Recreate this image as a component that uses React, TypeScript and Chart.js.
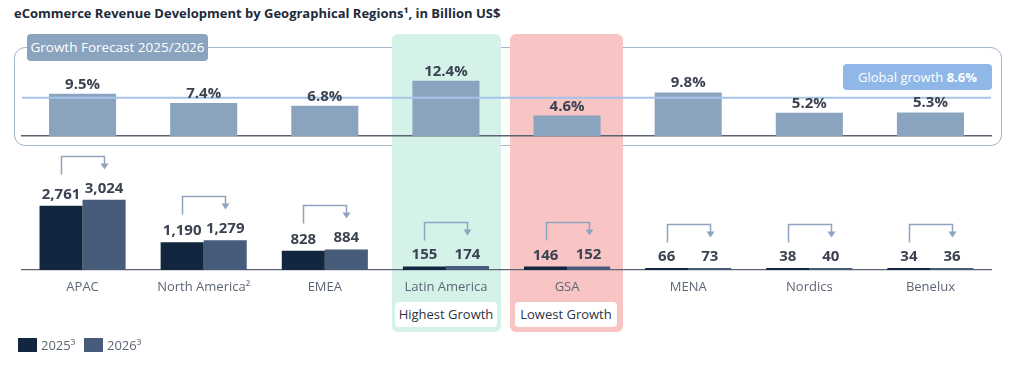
import React, { useEffect, useRef } from "react";
import { Chart, registerables } from "chart.js";

Chart.register(...registerables);

const categories = ["APAC", "North America²", "EMEA", "Latin America", "GSA", "MENA", "Nordics", "Benelux"];
const growth = [9.5, 7.4, 6.8, 12.4, 4.6, 9.8, 5.2, 5.3];
const revenue2025 = [2761, 1190, 828, 155, 146, 66, 38, 34];
const revenue2026 = [3024, 1279, 884, 174, 152, 73, 40, 36];
const globalGrowth = 8.6;
const seriesLabels = ["2025³", "2026³"];

const FONT = "'Open Sans', 'Noto Sans', sans-serif";
const C2025 = "#13263f";
const C2026 = "#465c7a";
const CTOP = "#8aa3bf";
const VALUE_TEXT = "#3b4351";

const topLabels = {
  id: "topLabels",
  afterDatasetsDraw(chart: any) {
    const ctx = chart.ctx;
    const meta = chart.getDatasetMeta(0);
    const y = chart.scales.y.getPixelForValue(globalGrowth);
    const { left, right } = chart.chartArea;
    ctx.save();
    ctx.strokeStyle = "#a6c4ea";
    ctx.lineWidth = 2;
    ctx.beginPath();
    ctx.moveTo(left, y);
    ctx.lineTo(right, y);
    ctx.stroke();
    ctx.fillStyle = VALUE_TEXT;
    ctx.font = `bold 15px ${FONT}`;
    ctx.textAlign = "center";
    ctx.textBaseline = "alphabetic";
    meta.data.forEach((bar: any, i: number) => {
      ctx.fillText(growth[i].toFixed(1) + "%", bar.x, bar.y - 5);
    });
    ctx.restore();
  },
};

const bottomLabels = {
  id: "bottomLabels",
  afterDatasetsDraw(chart: any) {
    const ctx = chart.ctx;
    const m0 = chart.getDatasetMeta(0);
    const m1 = chart.getDatasetMeta(1);
    const sets = [revenue2025, revenue2026];
    ctx.save();
    ctx.fillStyle = VALUE_TEXT;
    ctx.font = `bold 15px ${FONT}`;
    ctx.textAlign = "center";
    ctx.textBaseline = "alphabetic";
    [m0, m1].forEach((meta: any, d: number) => {
      meta.data.forEach((bar: any, i: number) => {
        ctx.fillText(sets[d][i].toLocaleString("en-US"), bar.x, bar.y - 7);
      });
    });
    ctx.strokeStyle = "#8ea4bf";
    ctx.fillStyle = "#8ea4bf";
    ctx.lineWidth = 1.5;
    m0.data.forEach((b0: any, i: number) => {
      const b1 = m1.data[i];
      const top = Math.round(Math.min(b0.y, b1.y) - 44) + 0.5;
      const x0 = Math.round(b0.x) + 0.5;
      const x1 = Math.round(b1.x) + 0.5;
      ctx.beginPath();
      ctx.moveTo(x0, top + 18);
      ctx.lineTo(x0, top);
      ctx.lineTo(x1, top);
      ctx.lineTo(x1, top + 8);
      ctx.stroke();
      ctx.beginPath();
      ctx.moveTo(x1 - 4, top + 7);
      ctx.lineTo(x1 + 4, top + 7);
      ctx.lineTo(x1, top + 13);
      ctx.closePath();
      ctx.fill();
    });
    ctx.restore();
  },
};

export default function App() {
  const topRef = useRef<HTMLCanvasElement>(null);
  const botRef = useRef<HTMLCanvasElement>(null);

  useEffect(() => {
    document.body.style.margin = "0";
    const top = new Chart(topRef.current as HTMLCanvasElement, {
      type: "bar",
      data: {
        labels: categories,
        datasets: [
          {
            label: "Growth Forecast 2025/2026",
            data: growth,
            backgroundColor: CTOP,
            categoryPercentage: 1,
            barPercentage: 67 / 121,
          },
        ],
      },
      options: {
        animation: false,
        responsive: false,
        layout: { padding: { left: 22, right: 33, top: 47, bottom: 236 } },
        plugins: { legend: { display: false }, tooltip: { enabled: false } },
        scales: {
          x: {
            grid: { display: false },
            border: { display: true, color: "#5a6372", width: 1.5 },
            ticks: { display: false },
            afterFit: (s: any) => {
              s.height = 0;
            },
          },
          y: { display: false, min: 0, max: 20 },
        },
      },
      plugins: [topLabels],
    });

    const bot = new Chart(botRef.current as HTMLCanvasElement, {
      type: "bar",
      data: {
        labels: categories,
        datasets: [
          {
            label: seriesLabels[0],
            data: revenue2025,
            backgroundColor: C2025,
            categoryPercentage: 86 / 121,
            barPercentage: 1,
            minBarLength: 2,
          },
          {
            label: seriesLabels[1],
            data: revenue2026,
            backgroundColor: C2026,
            categoryPercentage: 86 / 121,
            barPercentage: 1,
            minBarLength: 2,
          },
        ],
      },
      options: {
        animation: false,
        responsive: false,
        layout: { padding: { left: 22, right: 33, top: 177, bottom: 62 } },
        plugins: { legend: { display: false }, tooltip: { enabled: false } },
        scales: {
          x: {
            grid: { display: false, drawTicks: false },
            border: { display: true, color: "#5c6473", width: 1.2 },
            ticks: { color: "#5d6675", font: { family: FONT, size: 13 }, padding: 9, maxRotation: 0 },
            afterFit: (s: any) => {
              s.height = 40;
            },
          },
          y: { display: false, min: 0, max: 4000 },
        },
      },
      plugins: [bottomLabels],
    });
    return () => {
      top.destroy();
      bot.destroy();
    };
  }, []);

  const abs = (o: any): React.CSSProperties => ({ position: "absolute", ...o });

  return (
    <div
      style={{
        position: "relative",
        width: 1024,
        height: 372,
        background: "#ffffff",
        overflow: "hidden",
        fontFamily: FONT,
      }}
    >
      <div
        style={abs({
          left: 14,
          top: 4,
          fontSize: 13,
          fontWeight: 700,
          color: "#1d2a3a",
          lineHeight: "18px",
          whiteSpace: "nowrap",
        })}
      >
        eCommerce Revenue Development by Geographical Regions¹, in Billion US$
      </div>
      <div
        style={abs({
          left: 14,
          top: 47,
          width: 988,
          height: 99,
          boxSizing: "border-box",
          border: "1.5px solid #a5b5cb",
          borderRadius: 11,
        })}
      />
      <div style={abs({ left: 392, top: 34, width: 109, height: 298, background: "#d4f2e8", borderRadius: 6 })} />
      <div style={abs({ left: 510, top: 34, width: 113, height: 298, background: "#f8c4c4", borderRadius: 6 })} />
      <div
        style={abs({
          left: 27,
          top: 34,
          width: 181,
          height: 27,
          background: "#8aa3bf",
          borderRadius: 4,
          color: "#ffffff",
          fontSize: 13.5,
          lineHeight: "27px",
          textAlign: "center",
          whiteSpace: "nowrap",
        })}
      >
        Growth Forecast 2025/2026
      </div>
      <div
        style={abs({
          left: 843,
          top: 64,
          width: 149,
          height: 26,
          background: "#8fb7e7",
          borderRadius: 4,
          color: "#ffffff",
          fontSize: 13,
          lineHeight: "26px",
          textAlign: "center",
          whiteSpace: "nowrap",
        })}
      >
        Global growth <b>{globalGrowth.toFixed(1)}%</b>
      </div>
      <div
        style={abs({
          left: 395,
          top: 302,
          width: 102,
          height: 25,
          background: "#ffffff",
          borderRadius: 4,
          color: "#2b3445",
          fontSize: 13,
          lineHeight: "25px",
          textAlign: "center",
          whiteSpace: "nowrap",
        })}
      >
        Highest Growth
      </div>
      <div
        style={abs({
          left: 515,
          top: 302,
          width: 102,
          height: 25,
          background: "#ffffff",
          borderRadius: 4,
          color: "#2b3445",
          fontSize: 13,
          lineHeight: "25px",
          textAlign: "center",
          whiteSpace: "nowrap",
        })}
      >
        Lowest Growth
      </div>
      <canvas ref={topRef} width={1024} height={372} style={abs({ left: 0, top: 0, width: 1024, height: 372 })} />
      <canvas ref={botRef} width={1024} height={372} style={abs({ left: 0, top: 0, width: 1024, height: 372 })} />
      <div style={abs({ left: 18, top: 338, width: 19, height: 14, background: C2025 })} />
      <div style={abs({ left: 41, top: 336, fontSize: 13, lineHeight: "18px", color: "#5d6675" })}>{seriesLabels[0]}</div>
      <div style={abs({ left: 84, top: 338, width: 19, height: 14, background: C2026 })} />
      <div style={abs({ left: 107, top: 336, fontSize: 13, lineHeight: "18px", color: "#5d6675" })}>{seriesLabels[1]}</div>
    </div>
  );
}
